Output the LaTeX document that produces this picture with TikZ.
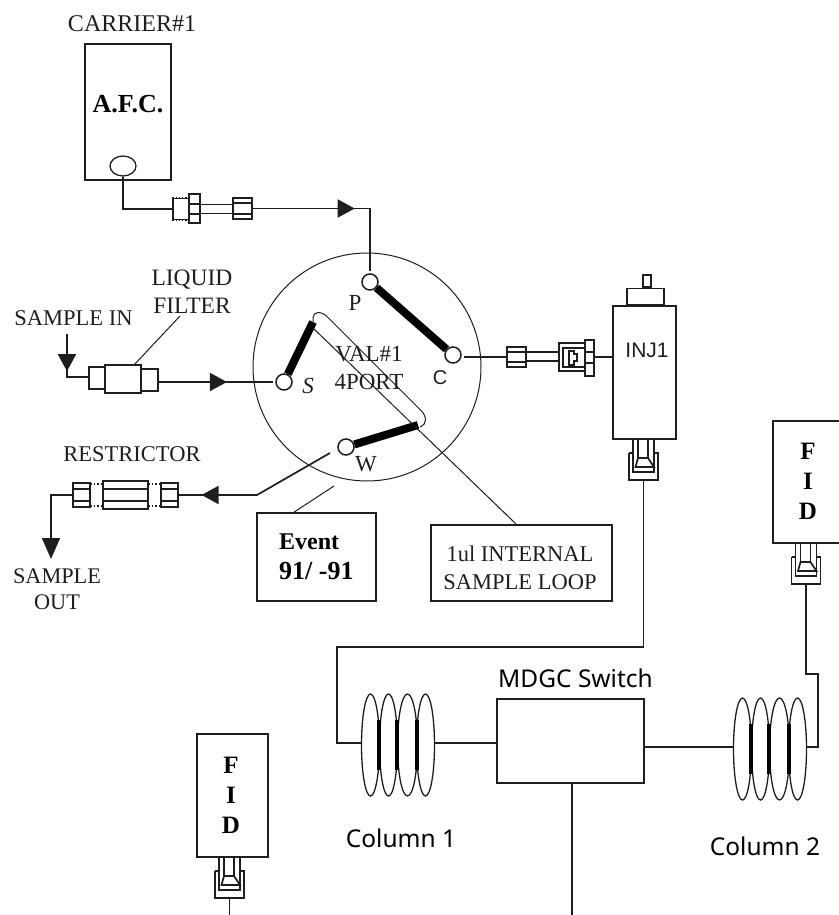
\documentclass[tikz,border=0pt]{standalone}
\usepackage{fontspec}
\setmainfont{Liberation Serif}
\setsansfont{Liberation Sans}
\newfontfamily\labelfont{Noto Sans}
\usetikzlibrary{
  shapes.geometric,
  arrows.meta,
  positioning, calc,
  decorations.markings
}
\definecolor{inkcol}{RGB}{30,30,30}
\tikzset{
  pipe/.style={line width=1.7pt,color=inkcol},
  fine/.style={line width=1pt,color=inkcol},
  bar/.style={line width=8pt,color=black},
  basebox/.style={rectangle,draw=inkcol,line width=1.8pt,inner sep=0pt,align=center},
  partbox/.style={rectangle,draw=inkcol,line width=1.6pt,inner sep=0pt,fill=white},
  portnode/.style={circle,draw=inkcol,line width=1.5pt,inner sep=0pt,minimum size=16pt,fill=white},
  serifnote/.style={inner sep=0pt,align=center,text=inkcol,font=\fontsize{23}{28}\selectfont},
  boldnote/.style={inner sep=0pt,align=center,text=black,font=\fontsize{24}{30}\selectfont\bfseries},
  sansnote/.style={inner sep=0pt,text=inkcol,font=\fontsize{20}{24}\selectfont\sffamily},
  colnote/.style={inner sep=0pt,text=black,font=\fontsize{24.5}{28}\selectfont\labelfont},
  midtri/.style={postaction={decorate},decoration={markings,
    mark=at position #1 with {\arrow{Triangle[length=17pt,width=18pt]}}}},
  thread/.style={line width=1.3pt,dotted,color=inkcol},
  cupfit/.pic={
    \draw[pipe] (-10.5,0) -- (-10.5,33) -- (10.5,33) -- (10.5,0);
    \draw[pipe] (-5.5,0) -- (-5.5,19) -- (4.5,19) -- (4.5,0);
    \draw[pipe] (-14.5,14) -- (-14.5,41) -- (14.5,41) -- (14.5,14) -- (10.5,14);
    \draw[pipe] (-14.5,14) -- (-10.5,14);
    \draw[pipe] (-5.5,19) -- (-8,28) -- (10.5,28) -- (4.5,19);
    \coordinate (-out) at (0,41);
  },
  coil/.pic={
    \foreach \cx/\rx in {-27/9,-9/9,10/10,28/9}
      \draw[fine,line width=1.3pt] (\cx,0) ellipse[x radius=\rx,y radius=51];
    \foreach \bx in {-18.5,-1,19.5}
      \draw[black,line width=4pt] (\bx,-25) -- (\bx,25);
    \coordinate (-west) at (-36,-2);
    \coordinate (-east) at (37,-2);
  }
}

\begin{document}
\begin{tikzpicture}[x=1pt,y=-1pt]
  \useasboundingbox (0,0) rectangle (838,915);

  %% Carrier and AFC
  \node[basebox,minimum width=86pt,minimum height=136pt] (afc) at (128,112) {};
  \node[boldnote,font=\fontsize{26}{30}\selectfont\bfseries] (afctxt) at (128,104) {A.F.C.};
  \node[serifnote,font=\fontsize{24}{28}\selectfont,above=11pt of afc,xshift=4pt] (carrier) {CARRIER\#1};
  \node[ellipse,draw=inkcol,line width=1.3pt,minimum width=26pt,minimum height=20pt,inner sep=0pt] (afcport) at (123,166) {};

  %% Fitting on the carrier line
  \node[partbox,minimum width=16pt,minimum height=21pt] (cbody) at (181,209) {};
  \node[partbox,minimum width=11pt,minimum height=29pt] (chex) at (194.5,208.5) {};
  \node[partbox,minimum width=19pt,minimum height=21pt] (cnut) at (242.5,208.5) {};
  \draw[pipe] (chex.west |- 0,204) -- (chex.east |- 0,204);
  \draw[pipe] (chex.west |- 0,214) -- (chex.east |- 0,214);
  \draw[pipe] (cnut.west |- 0,203) -- (cnut.east |- 0,203);
  \draw[pipe] (cnut.west |- 0,214) -- (cnut.east |- 0,214);
  \draw[pipe] (chex.east |- 0,204.5) -- (cnut.west |- 0,204.5);
  \draw[pipe] (chex.east |- 0,213.5) -- (cnut.west |- 0,213.5);
  \draw[thread] (cbody.north west) -- (cbody.north east);
  \draw[thread] (cbody.south west) -- (cbody.south east);

  %% Valve
  \node[circle,draw=inkcol,line width=1pt,minimum size=228pt,inner sep=0pt] (valve) at (367,367) {};
  \node[portnode] (portP) at (370,282) {};
  \node[portnode] (portC) at (453,355) {};
  \node[portnode] (portS) at (284,382) {};
  \node[portnode] (portW) at (346,447) {};
  \node[serifnote] (lblP) at (355,303) {P};
  \node[serifnote,font=\fontsize{23}{28}\selectfont\itshape] (lblS) at (308,386) {S};
  \node[sansnote] (lblC) at (440,378) {C};
  \node[serifnote] (lblW) at (366,464) {W};
  \node[serifnote] (valtxt) at (369,368) {VAL\#1\\4PORT};

  %% Sample loop
  \coordinate (loopA) at (313,322);
  \coordinate (loopB) at (418,425);
  \coordinate (loopC) at (313,328);
  \draw[bar] (portP) -- (portC);
  \draw[bar] (portS) -- (loopA);
  \draw[bar] (portW) -- (loopB);
  \draw[fine,rounded corners=5pt] (313,323) -- (313,312.5) -- (323,312.5) -- (425.5,415) -- (425.5,425) -- (420,427);

  %% Sample in, filter
  \node[partbox,minimum width=16pt,minimum height=22pt] (fltL) at (97,378) {};
  \node[partbox,minimum width=17pt,minimum height=22pt] (fltR) at (149.5,380) {};
  \node[partbox,minimum width=36pt,minimum height=28pt] (flt) at (123,379) {};
  \node[serifnote,font=\fontsize{22.5}{28}\selectfont] (smpin) at (73.5,318) {SAMPLE IN};
  \node[serifnote,font=\fontsize{23.5}{28}\selectfont] (lblflt) at (192,292) {LIQUID\\FILTER};
  \coordinate (smptop) at (67,334);
  \coordinate (smpbend) at (67,377);
  \coordinate (fltlead) at (180,316);

  %% Restrictor
  \node[partbox,minimum width=17pt,minimum height=24pt] (rnutL) at (81.5,495) {};
  \node[partbox,minimum width=45pt,minimum height=28pt] (rbody) at (125.5,495) {};
  \node[partbox,minimum width=17pt,minimum height=24pt] (rnutR) at (169.5,495) {};
  \foreach \ry in {489,501}
    \draw[pipe] (rnutL.west |- 0,\ry) -- (rnutL.east |- 0,\ry)
                (rbody.west |- 0,\ry) -- (rbody.east |- 0,\ry)
                (rnutR.west |- 0,\ry) -- (rnutR.east |- 0,\ry);
  \foreach \ry in {484,506}
    \draw[thread] (rnutL.east |- 0,\ry) -- (rbody.west |- 0,\ry)
                  (rbody.east |- 0,\ry) -- (rnutR.west |- 0,\ry);
  \node[serifnote,font=\fontsize{22.5}{28}\selectfont] (lblres) at (132,454) {RESTRICTOR};
  \node[serifnote,font=\fontsize{22.3}{26}\selectfont] (smpout) at (57,589) {SAMPLE\\OUT};
  \coordinate (wfree) at (330,453);
  \coordinate (wbend) at (257,495);
  \coordinate (outtip) at (51,559);

  %% Event and loop boxes
  \node[basebox,minimum width=119pt,minimum height=88pt] (event) at (316.5,557) {};
  \node[boldnote,align=left,anchor=west] (evttxt) at (279,556.5) {Event\\{\fontsize{26}{30}\selectfont 91/ -91}};
  \coordinate (evtfree) at (334,486);
  \node[basebox,minimum width=181pt,minimum height=76pt] (loopbox) at (521.5,563) {};
  \node[serifnote,font=\fontsize{22.5}{28}\selectfont] (looptxt) at (520,568) {1ul INTERNAL\\SAMPLE LOOP};

  %% Injector
  \node[basebox,minimum width=63pt,minimum height=133pt] (inj) at (644.5,372.5) {};
  \node[sansnote,font=\fontsize{21}{24}\selectfont\sffamily] (injtxt) at (647,350) {INJ1};
  \node[partbox,minimum width=37pt,minimum height=16pt,above=0pt of inj,xshift=1pt] (injcap) {};
  \node[partbox,minimum width=8pt,minimum height=12pt,above=0pt of injcap,xshift=1.5pt] (injstem) {};
  \pic (injfit) at (643.5,439) {cupfit};

  %% Fitting on the injector line
  \node[partbox,minimum width=19pt,minimum height=20pt] (inut) at (516.5,357) {};
  \node[partbox,minimum width=26pt,minimum height=28pt] (ibody) at (572,357) {};
  \node[partbox,minimum width=9pt,minimum height=36pt] (ihex) at (589.5,358) {};
  \draw[pipe] (inut.west |- 0,352) -- (inut.east |- 0,352);
  \draw[pipe] (inut.west |- 0,362) -- (inut.east |- 0,362);
  \draw[pipe] (inut.east |- 0,352) -- (ibody.west |- 0,352);
  \draw[pipe] (inut.east |- 0,361) -- (ibody.west |- 0,361);
  \draw[pipe] (ihex.west |- 0,348) -- (563,348) -- (563,367) -- (ihex.west |- 0,367);
  \draw[pipe] (ihex.west |- 0,352) -- (ihex.east |- 0,352);
  \draw[pipe] (ihex.west |- 0,363) -- (ihex.east |- 0,363);
  \draw[pipe] (569,351) -- (574,351) -- (574,354) -- (577,354) -- (577,361) -- (574,361) -- (574,365) -- (569,365) -- cycle;

  %% Columns and MDGC switch
  \pic (col1) at (397.5,745) {coil};
  \pic (col2) at (769.5,749) {coil};
  \node[basebox,minimum width=147pt,minimum height=84pt] (mdgc) at (570.5,741) {};
  \node[colnote,above=10pt of mdgc,xshift=5pt] (lblmdgc) {MDGC Switch};
  \node[colnote] (lblcol1) at (401,838) {Column 1};
  \node[colnote] (lblcol2) at (765,846) {Column 2};
  \coordinate (injbend) at (337,647);
  \coordinate (mdgcout) at (572,915);
  \coordinate (fidbendA) at (818,747);
  \coordinate (fidbendB) at (818,674);

  %% FID boxes
  \node[basebox,minimum width=80pt,minimum height=122pt] (fidR) at (813,482) {};
  \node[boldnote,font=\fontsize{25}{30}\selectfont\bfseries] (fidRtxt) at (808,481) {F\\I\\D};
  \pic (fidRfit) at (806,543) {cupfit};
  \node[basebox,minimum width=71pt,minimum height=123pt] (fidL) at (232.5,795.5) {};
  \node[boldnote,font=\fontsize{25}{30}\selectfont\bfseries] (fidLtxt) at (231,795) {F\\I\\D};
  \pic (fidLfit) at (229.5,857) {cupfit};
  \coordinate (fidLout) at (229.5,915);

  %% Pipes
  \draw[pipe] (afcport.south) |- (cbody.west);
  \draw[pipe,midtri=0.56,shorten >=2pt] (cnut.east) -| (portP.north);
  \draw[pipe,midtri=0.58] (smptop) -- (smpbend) -- (fltL.west |- smpbend);
  \draw[pipe,midtri=0.585,shorten >=2pt] (fltR.east |- portS) -- (portS.west);
  \draw[pipe,midtri=0.86] (wfree) -- (wbend) -- (rnutR.east);
  \draw[pipe,-{Triangle[length=21pt,width=18pt]}] (rnutL.west) -| (outtip);
  \draw[pipe,shorten <=2pt] (portC.east |- inut) -- (inut.west);
  \draw[pipe] (ihex.east |- 0,357) -- (inj.west |- 0,357);
  \draw[pipe] (injfit-out) |- (injbend) |- (col1-west);
  \draw[pipe] (col1-east) -- (mdgc.west |- col1-east);
  \draw[pipe] (mdgc.east |- col2-east) -- (col2-west);
  \draw[pipe] (col2-east) -- (fidbendA) -- (fidbendB) -| (fidRfit-out);
  \draw[pipe] (mdgc.south -| mdgcout) -- (mdgcout);
  \draw[pipe] (fidLfit-out) -- (fidLout);

  %% Leader lines
  \draw[fine] (fltlead) -- (134,365);
  \draw[fine] (evtfree) -- ([xshift=38pt]event.north west);
  \draw[fine] (loopC) -- ([xshift=86pt]loopbox.north west);
\end{tikzpicture}
\end{document}
